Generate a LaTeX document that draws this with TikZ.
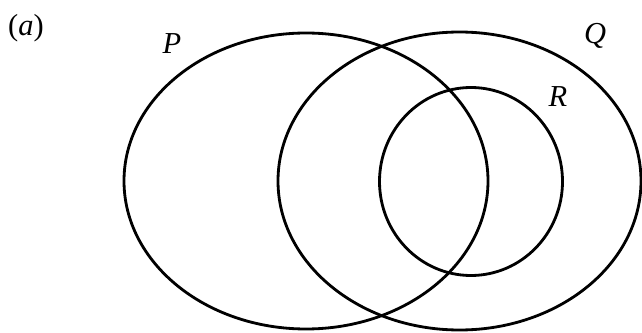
\documentclass[tikz,border=0pt]{standalone}
\usepackage{fontspec}
\setmainfont{Liberation Serif}
\usepackage{tikz}
\usetikzlibrary{positioning}

\begin{document}
\begin{tikzpicture}[
  x=0.03cm, y=0.03cm,
  set/.style={draw=black, line width=2.4pt},
  setlabel/.style={font=\fontsize{26}{29}\selectfont\itshape, inner sep=0pt}
]
\useasboundingbox (0,0) rectangle (642,332);

% Sets
\draw[set] (306,151) ellipse [x radius=182, y radius=148];
\draw[set] (459.5,151) ellipse [x radius=181.5, y radius=149];
\draw[set] (471,150.5) ellipse [x radius=91.5, y radius=94];

% Labels
\node[setlabel] (part) at (26,304) {\upshape(\textit{a})};
\node[setlabel] (labelP) at (172,288) {P};
\node[setlabel] (labelQ) at (595,296) {Q};
\node[setlabel] (labelR) at (558,235) {R};

\end{tikzpicture}
\end{document}
